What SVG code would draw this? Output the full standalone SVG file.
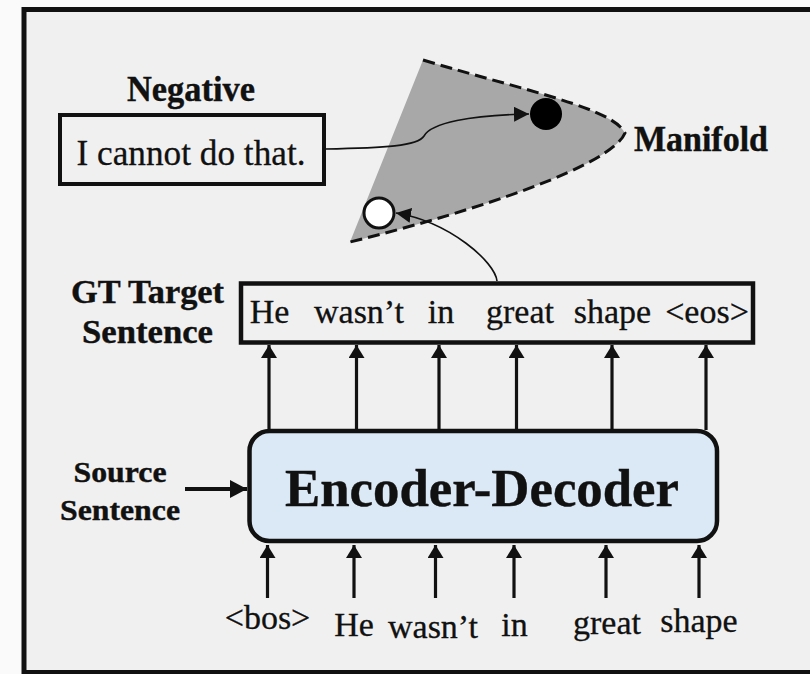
<svg xmlns="http://www.w3.org/2000/svg" width="810" height="674" viewBox="0 0 810 674">
<defs>
<style>
.t{font-family:"Liberation Serif","Times New Roman",serif;fill:#111;text-anchor:middle;stroke:#111;stroke-width:0.3}
.b{font-weight:bold;stroke-width:0.4}
.ln{stroke:#111;fill:none}
</style>
<marker id="ah" markerUnits="userSpaceOnUse" markerWidth="13" markerHeight="16" refX="13" refY="8" orient="auto" viewBox="0 0 13 16"><path d="M0,0 L13,8 L0,16 z" fill="#111"/></marker>
<marker id="ahs" markerUnits="userSpaceOnUse" markerWidth="15" markerHeight="15" refX="15" refY="7.5" orient="auto" viewBox="0 0 15 15"><path d="M0,0 L15,7.5 L0,15 z" fill="#111"/></marker>
<marker id="ahb" markerUnits="userSpaceOnUse" markerWidth="17" markerHeight="18" refX="17" refY="9" orient="auto" viewBox="0 0 17 18"><path d="M0,0 L17,9 L0,18 z" fill="#111"/></marker>
</defs>
<rect x="0" y="0" width="810" height="674" fill="#fafafa"/>
<rect x="24" y="9.5" width="800" height="663" fill="#f0f0f0" stroke="#111" stroke-width="5"/>

<g id="manifold">
<path d="M423,60 C530,92 612,108 625,133 C612,165 480,210 350,242 Z" fill="#a8a8a8"/>
<path d="M423,60 C530,92 612,108 625,133 C612,165 480,210 350,242" class="ln" stroke-width="3" stroke-dasharray="12 6"/>
<text class="t b" x="701" y="151" font-size="35" textLength="134" lengthAdjust="spacingAndGlyphs">Manifold</text>
</g>
<g id="neg-point"><circle cx="546" cy="114" r="16" fill="#000"/></g>
<g id="gt-point"><circle cx="379" cy="213" r="15" fill="#fff" stroke="#111" stroke-width="3"/></g>

<g id="negative">
<text class="t b" x="191" y="101" font-size="35" textLength="128" lengthAdjust="spacingAndGlyphs">Negative</text>
<rect x="60" y="115" width="264" height="69" fill="none" stroke="#111" stroke-width="4"/>
<text class="t" x="191" y="165" font-size="36" textLength="229" lengthAdjust="spacingAndGlyphs">I cannot do that.</text>
</g>

<g id="gt-target">
<text class="t b" x="147.5" y="303" font-size="33" textLength="153" lengthAdjust="spacingAndGlyphs">GT Target</text>
<text class="t b" x="147.5" y="343" font-size="33" textLength="131" lengthAdjust="spacingAndGlyphs">Sentence</text>
<rect x="241" y="283.5" width="512" height="59" fill="none" stroke="#111" stroke-width="4.5"/>
<text class="t" font-size="34" y="323">
<tspan x="269.5">He</tspan><tspan x="359">wasn’t</tspan><tspan x="441">in</tspan><tspan x="520">great</tspan><tspan x="612.5">shape</tspan><tspan x="707">&lt;eos&gt;</tspan>
</text>
</g>

<g id="encoder-decoder">
<rect x="249.5" y="431" width="467.5" height="110" rx="20" fill="#dbe8f5" stroke="#111" stroke-width="4.5"/>
<text class="t b" x="482" y="506" font-size="52" textLength="394" lengthAdjust="spacingAndGlyphs">Encoder-Decoder</text>
</g>

<g id="source">
<text class="t b" x="120" y="482" font-size="30" textLength="93" lengthAdjust="spacingAndGlyphs">Source</text>
<text class="t b" x="120" y="520" font-size="30" textLength="120" lengthAdjust="spacingAndGlyphs">Sentence</text>
</g>

<g id="inputs">
<text class="t" font-size="34">
<tspan x="267.5" y="629">&lt;bos&gt;</tspan><tspan x="354" y="636">He</tspan><tspan x="433" y="638">wasn’t</tspan><tspan x="514.5" y="636">in</tspan><tspan x="607" y="634">great</tspan><tspan x="699" y="632">shape</tspan>
</text>
</g>

<g id="connectors">
<path class="ln" stroke-width="1.6" d="M325,149 C385,148 418,146 424,136 C431,123 470,115 529,114" marker-end="url(#ahs)"/>
<path class="ln" stroke-width="1.6" d="M497,281 C495,262 450,222 396,213" marker-end="url(#ahs)"/>
<g stroke-width="3.2" class="ln" marker-end="url(#ah)">
<path d="M269,430 L269,345"/><path d="M356.5,430 L356.5,345"/><path d="M439,430 L439,345"/><path d="M516.5,430 L516.5,345"/><path d="M612,430 L612,345"/><path d="M706,430 L706,345"/>
<path d="M267.5,598 L267.5,545"/><path d="M354,598 L354,545"/><path d="M435.5,598 L435.5,545"/><path d="M514,598 L514,545"/><path d="M606,598 L606,545"/><path d="M699,598 L699,545"/>
</g>
<path class="ln" stroke-width="4" d="M185,489 L247,489" marker-end="url(#ahb)"/>
</g>
</svg>
